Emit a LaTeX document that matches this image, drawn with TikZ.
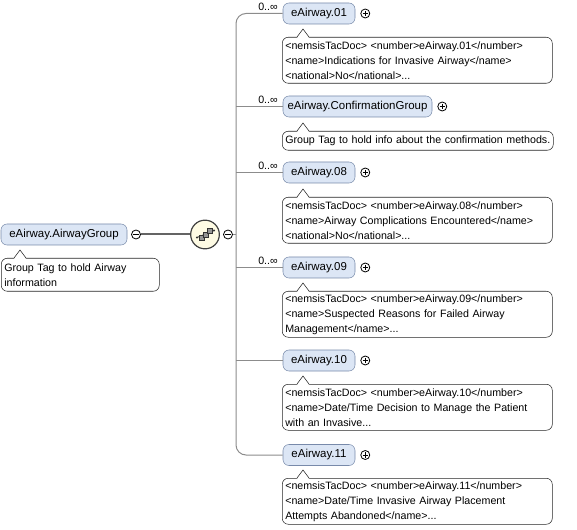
\documentclass[tikz,border=0pt]{standalone}
\usepackage{fontspec}
\setmainfont{Liberation Sans}
\usetikzlibrary{calc}
\definecolor{elemF}{RGB}{220,230,245}
\definecolor{elemB}{RGB}{120,138,170}
\definecolor{busC}{RGB}{140,140,140}
\definecolor{seqF}{RGB}{254,251,228}
\definecolor{sqF}{RGB}{150,150,150}
\definecolor{thickC}{RGB}{100,100,100}
\begin{document}
\begin{tikzpicture}[x=0.75pt,y=-0.75pt,
  elem/.style={draw=elemB, fill=elemF, rounded corners=4.5pt, minimum height=15.75pt,
     inner sep=0pt, font=\fontsize{8.6}{10}\selectfont},
  annot/.style={draw=black!85, fill=white, rounded corners=4.5pt, align=left,
     inner xsep=2.25pt, inner ysep=0pt, anchor=north west, font=\fontsize{8}{11.25}\selectfont},
  pmc/.style={circle, draw=black, line width=0.6pt, minimum size=6.75pt, inner sep=0pt},
  plusc/.style={pmc, path picture={
     \draw[line width=0.6pt] ($(path picture bounding box.center)+(-2.6,0)$) -- ($(path picture bounding box.center)+(2.6,0)$);
     \draw[line width=0.6pt] ($(path picture bounding box.center)+(0,-2.6)$) -- ($(path picture bounding box.center)+(0,2.6)$);}},
  minusc/.style={pmc, path picture={
     \draw[line width=0.6pt] ($(path picture bounding box.center)+(-2.6,0)$) -- ($(path picture bounding box.center)+(2.6,0)$);}},
  conn/.style={draw=busC, line width=0.75pt},
  thickconn/.style={draw=thickC, line width=1.5pt},
  card/.style={font=\fontsize{8}{9}\selectfont, inner sep=0pt, anchor=base east},
  notch/.style={draw=black!85, line width=0.4pt}
]
\useasboundingbox (0,0) rectangle (577,530);

% root
\node[elem, minimum width=94.5pt] (root) at (64,234.5) {eAirway.AirwayGroup};
\node[minusc] (rm) at (136,234.5) {};
\node[circle, draw=black!75, line width=0.9pt, fill=seqF, minimum size=21.5pt, inner sep=0pt] (seq) at (205,234.5) {};
\node[minusc] (sm) at (228,234.5) {};
\coordinate (bus) at (236,234.5);

% connector root -> sequence
\draw[thickconn] (rm.east) -- (seq.west);

% sequence icon
\begin{scope}[shift={(seq.center)}]
  \draw[black!80, line width=0.6pt] (-8,3) -- (9,-4);
  \fill[black!80] (-8,3) circle (1.1);
  \fill[black!80] (9,-4) circle (1.1);
  \draw[black!80, fill=sqF, line width=0.5pt] (-6,0.5) rectangle (-1,5.5);
  \draw[black!80, fill=sqF, line width=0.5pt] (-2,-2.5) rectangle (3,2.5);
  \draw[black!80, fill=sqF, line width=0.5pt] (2,-6) rectangle (7,-1);
\end{scope}

% children
\node[elem, minimum width=54pt] (e1) at (319,13.5) {eAirway.01};
\node[elem, minimum width=111.75pt] (e2) at (357.5,106.5) {eAirway.ConfirmationGroup};
\node[elem, minimum width=54pt] (e3) at (319,172.5) {eAirway.08};
\node[elem, minimum width=54pt] (e4) at (319,267.5) {eAirway.09};
\node[elem, minimum width=54pt] (e5) at (319,360.5) {eAirway.10};
\node[elem, minimum width=54pt] (e6) at (319,455) {eAirway.11};

\node[plusc] (p1) at ($(e1.east)+(10,0)$) {};
\node[plusc] (p2) at ($(e2.east)+(10,0)$) {};
\node[plusc] (p3) at ($(e3.east)+(10,0)$) {};
\node[plusc] (p4) at ($(e4.east)+(10,0)$) {};
\node[plusc] (p5) at ($(e5.east)+(10,0)$) {};
\node[plusc] (p6) at ($(e6.east)+(10,0)$) {};

% cardinalities
\node[card] (c1) at (278,11) {0..∞};
\node[card] (c2) at (278,104) {0..∞};
\node[card] (c3) at (278,170) {0..∞};
\node[card] (c4) at (278,265) {0..∞};

% connectors
\draw[conn] (sm.east) -- (bus);
\draw[conn, rounded corners=7.5pt] (e1.west) -| (bus) |- (e6.west);
\draw[conn] (e2.west) -- (e2.west -| bus);
\draw[conn] (e3.west) -- (e3.west -| bus);
\draw[conn] (e4.west) -- (e4.west -| bus);
\draw[conn] (e5.west) -- (e5.west -| bus);

% annotations
\node[annot, text width=114pt, minimum height=24.75pt] (ra) at (1,258)
  {Group Tag to hold Airway\\information};
\node[annot, text width=198pt, minimum height=34.5pt] (a1) at (282,37)
  {<nemsisTacDoc> <number>eAirway.01</number>\\<name>Indications for Invasive Airway</name>\\<national>No</national>...};
\node[annot, text width=198.75pt, minimum height=14.25pt] (a2) at (282,131)
  {\mbox{Group Tag to hold info about the confirmation methods.}};
\node[annot, text width=198pt, minimum height=34.5pt] (a3) at (282,197)
  {<nemsisTacDoc> <number>eAirway.08</number>\\<name>Airway Complications Encountered</name>\\<national>No</national>...};
\node[annot, text width=198pt, minimum height=34.5pt] (a4) at (282,291)
  {<nemsisTacDoc> <number>eAirway.09</number>\\<name>Suspected Reasons for Failed Airway\\Management</name>...};
\node[annot, text width=198pt, minimum height=34.5pt] (a5) at (282,384)
  {<nemsisTacDoc> <number>eAirway.10</number>\\<name>Date/Time Decision to Manage the Patient\\with an Invasive...};
\node[annot, text width=198pt, minimum height=34.5pt] (a6) at (282,478)
  {<nemsisTacDoc> <number>eAirway.11</number>\\<name>Date/Time Invasive Airway Placement\\Attempts Abandoned</name>...};

% notches
\foreach \a/\d in {ra/13, a1/15, a2/15, a3/15, a4/15, a5/15, a6/15} {
  \fill[white, shift={(\a.north west)}] (\d,1) -- (\d+6,-8) -- (\d+12,1) -- cycle;
  \draw[notch, shift={(\a.north west)}] (\d,0) -- (\d+6,-8) -- (\d+12,0);
}
\end{tikzpicture}
\end{document}
